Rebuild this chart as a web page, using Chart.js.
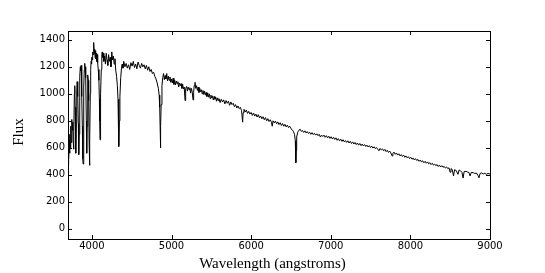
<!DOCTYPE html>
<html>
<head>
<meta charset="utf-8">
<script src="https://cdn.jsdelivr.net/npm/chart.js@4.4.1/dist/chart.umd.min.js"></script>
<style>
  html, body { margin: 0; padding: 0; background: #fff; }
  canvas { display: block; }
</style>
</head>
<body>
<canvas id="spectrumChart" width="545" height="273"></canvas>
<script>
// Spectrum, split in four stretches (wavelength in angstroms, flux)
const violetWave = [
  3700, 3705, 3710, 3715, 3720, 3725, 3730, 3735,
  3740, 3745, 3750, 3755, 3760, 3765, 3770, 3775,
  3780, 3785, 3790, 3795, 3800, 3805, 3810, 3815,
  3820, 3825, 3830, 3835, 3840, 3845, 3850, 3855,
  3860, 3865, 3870, 3875, 3880, 3885, 3890, 3895,
  3900, 3905, 3910, 3915, 3920, 3925, 3930, 3935,
  3940, 3945, 3950, 3955, 3960, 3965, 3970, 3975,
  3980, 3985, 3990, 3995, 4000, 4005, 4010, 4015,
  4020, 4025, 4030, 4035, 4040, 4045, 4050, 4055,
  4060, 4065, 4070, 4075, 4080, 4088, 4094, 4098,
  4102, 4106, 4112, 4118, 4125, 4130, 4135, 4140
];
const violetFlux = [
  470, 610, 520, 660, 560, 700, 600, 760,
  640, 700, 810, 730, 790, 650, 590, 720,
  1000, 1060, 900, 620, 560, 780, 1020, 1090,
  1060, 980, 780, 550, 700, 1010, 1130, 1200,
  1170, 1210, 1120, 980, 760, 520, 480, 700,
  1050, 1180, 1225, 1190, 1200, 1120, 800, 560,
  760, 1080, 1140, 1100, 950, 640, 470, 650,
  1000, 1180, 1240, 1220, 1270, 1250, 1310, 1290,
  1340, 1380, 1300, 1330, 1270, 1320, 1260, 1300,
  1240, 1290, 1250, 1230, 1180, 1100, 960, 800,
  660, 820, 1000, 1180, 1290, 1310, 1270, 1300
];

const blueWave = [
  4150, 4160, 4170, 4180, 4190, 4200, 4210, 4220,
  4230, 4240, 4250, 4260, 4270, 4280, 4290, 4300,
  4310, 4320, 4328, 4335, 4340, 4345, 4352, 4362,
  4372, 4380, 4390, 4400, 4415, 4430, 4445, 4460,
  4475, 4490, 4505, 4520, 4535, 4550, 4565, 4580,
  4595, 4610, 4625, 4640, 4655, 4670, 4685, 4700,
  4715, 4730, 4745, 4760, 4775, 4790, 4805, 4820,
  4835, 4845, 4852, 4857, 4861, 4865, 4870, 4880,
  4890, 4900
];
const blueFlux = [
  1240, 1280, 1220, 1300, 1250, 1210, 1290, 1240,
  1270, 1200, 1310, 1250, 1280, 1220, 1260, 1170,
  1130, 1060, 960, 780, 610, 800, 980, 1120,
  1190, 1220, 1190, 1240, 1200, 1225, 1190, 1215,
  1180, 1230, 1205, 1240, 1195, 1220, 1185, 1235,
  1210, 1190, 1225, 1200, 1215, 1185, 1210, 1175,
  1200, 1165, 1180, 1150, 1160, 1130, 1110, 1080,
  1040, 990, 900, 760, 600, 760, 920, 1060,
  1120, 1150
];

const greenWave = [
  4910, 4920, 4930, 4940, 4950, 4960, 4970, 4980,
  4990, 5000, 5010, 5020, 5030, 5040, 5050, 5060,
  5070, 5080, 5090, 5100, 5110, 5120, 5130, 5140,
  5150, 5160, 5170, 5175, 5180, 5190, 5200, 5210,
  5220, 5230, 5240, 5250, 5260, 5270, 5278, 5285,
  5295, 5305, 5315, 5325, 5335, 5345, 5355, 5365,
  5375, 5385, 5395, 5405, 5415, 5425, 5435, 5445,
  5455, 5465, 5475, 5485, 5495, 5505, 5515, 5525,
  5535, 5545, 5555, 5565, 5575, 5585, 5595, 5610,
  5625, 5640, 5655, 5670, 5685, 5700, 5715, 5730,
  5745, 5760, 5775, 5790, 5805, 5820, 5835, 5850,
  5865, 5880, 5893, 5900, 5910, 5925, 5940, 5955,
  5970, 5985, 6000, 6015, 6030, 6045, 6060, 6075,
  6090, 6105, 6120, 6135, 6150, 6165, 6180, 6195,
  6210, 6225, 6240, 6255, 6265, 6275, 6290, 6305,
  6320, 6335, 6350, 6365, 6380, 6395, 6410, 6425,
  6440, 6455, 6470, 6485, 6500, 6515, 6530, 6545,
  6555, 6560, 6563, 6566, 6572, 6585, 6600, 6615,
  6630
];
const greenFlux = [
  1105, 1135, 1110, 1150, 1095, 1130, 1100, 1125,
  1085, 1110, 1080, 1115, 1070, 1100, 1065, 1095,
  1075, 1090, 1050, 1080, 1060, 1075, 1040, 1070,
  1035, 1050, 950, 1000, 1040, 1055, 1020, 1050,
  1030, 1045, 1005, 1040, 1015, 955, 1010, 1060,
  1085, 1040, 1060, 1025, 1050, 1010, 1040, 1015,
  1030, 1000, 1025, 995, 1020, 990, 1010, 980,
  1005, 975, 1000, 965, 990, 970, 985, 955,
  980, 960, 975, 945, 970, 950, 965, 935,
  960, 940, 955, 925, 950, 930, 945, 915,
  940, 920, 930, 905, 920, 895, 910, 890,
  900, 875, 790, 860, 885, 865, 880, 855,
  870, 850, 862, 840, 858, 835, 850, 828,
  845, 822, 836, 815, 830, 808, 824, 800,
  816, 795, 808, 790, 760, 800, 785, 798,
  778, 792, 772, 786, 765, 780, 760, 774,
  755, 768, 750, 760, 742, 735, 722, 700,
  650, 540, 490, 580, 680, 715, 730, 738,
  722
];

const redWave = [
  6645, 6660, 6675, 6690, 6705, 6720, 6735, 6750,
  6765, 6780, 6795, 6810, 6825, 6840, 6855, 6870,
  6885, 6900, 6915, 6930, 6945, 6960, 6975, 6990,
  7005, 7020, 7035, 7050, 7065, 7080, 7095, 7110,
  7125, 7140, 7155, 7170, 7185, 7200, 7215, 7230,
  7245, 7260, 7275, 7290, 7305, 7320, 7335, 7350,
  7365, 7380, 7395, 7410, 7425, 7440, 7455, 7470,
  7485, 7500, 7515, 7530, 7545, 7560, 7575, 7590,
  7605, 7620, 7635, 7650, 7665, 7680, 7695, 7710,
  7725, 7740, 7755, 7770, 7780, 7795, 7810, 7825,
  7840, 7855, 7870, 7885, 7900, 7915, 7930, 7945,
  7960, 7975, 7990, 8005, 8020, 8035, 8050, 8065,
  8080, 8095, 8110, 8125, 8140, 8155, 8170, 8185,
  8200, 8215, 8230, 8245, 8260, 8275, 8290, 8305,
  8320, 8335, 8350, 8365, 8380, 8395, 8410, 8425,
  8440, 8455, 8470, 8485, 8498, 8510, 8525, 8542,
  8555, 8575, 8598, 8612, 8630, 8648, 8662, 8675,
  8700, 8720, 8735, 8750, 8765, 8790, 8810, 8830,
  8848, 8862, 8875, 8895, 8915, 8935, 8955, 8975,
  9000
];
const redFlux = [
  728, 714, 726, 710, 720, 706, 716, 700,
  712, 698, 708, 694, 704, 690, 700, 680,
  694, 684, 694, 678, 690, 674, 686, 670,
  682, 666, 678, 662, 674, 656, 668, 652,
  664, 648, 660, 644, 654, 640, 652, 636,
  648, 632, 644, 628, 640, 624, 636, 620,
  632, 616, 628, 614, 624, 610, 620, 606,
  616, 602, 612, 598, 608, 594, 602, 590,
  578, 596, 584, 592, 578, 588, 572, 582,
  566, 576, 562, 540, 560, 568, 552, 562,
  546, 556, 540, 550, 536, 546, 530, 540,
  526, 534, 520, 530, 516, 524, 510, 520,
  506, 514, 500, 510, 496, 504, 490, 500,
  486, 496, 482, 490, 476, 486, 472, 480,
  468, 476, 462, 472, 458, 468, 456, 462,
  450, 458, 446, 452, 420, 446, 440, 392,
  438, 432, 404, 436, 430, 418, 376, 424,
  426, 420, 418, 392, 418, 416, 410, 414,
  396, 378, 410, 414, 406, 412, 404, 410,
  406
];

const wavelength = [...violetWave, ...blueWave, ...greenWave, ...redWave];
const flux = [...violetFlux, ...blueFlux, ...greenFlux, ...redFlux];

// Tick values shown on the axes
const xTicks = [4000, 5000, 6000, 7000, 8000, 9000];
const yTicks = [0, 200, 400, 600, 800, 1000, 1200, 1400];

const xTitle = 'Wavelength (angstroms)';
const yTitle = 'Flux';

// matplotlib-like frame with inward ticks on all four sides, plus axis titles
const framePlugin = {
    id: 'frame',
    afterDraw(chart) {
        const ctx = chart.ctx;
        const area = chart.chartArea;
        const xs = chart.scales.x;
        const ys = chart.scales.y;
        const len = 4;
        ctx.save();
        ctx.strokeStyle = '#000';
        ctx.lineWidth = 1;
        ctx.strokeRect(Math.round(area.left) + 0.5, Math.round(area.top) + 0.5,
            Math.round(area.right - area.left), Math.round(area.bottom - area.top));
        ctx.beginPath();
        xTicks.forEach(v => {
            const px = Math.round(xs.getPixelForValue(v)) + 0.5;
            ctx.moveTo(px, area.bottom);
            ctx.lineTo(px, area.bottom - len);
            ctx.moveTo(px, area.top);
            ctx.lineTo(px, area.top + len);
        });
        yTicks.forEach(v => {
            const py = Math.round(ys.getPixelForValue(v)) + 0.5;
            ctx.moveTo(area.left, py);
            ctx.lineTo(area.left + len, py);
            ctx.moveTo(area.right, py);
            ctx.lineTo(area.right - len, py);
        });
        ctx.stroke();

        ctx.fillStyle = '#000';
        ctx.font = '15px "Liberation Serif", "DejaVu Serif", serif';
        ctx.textAlign = 'center';
        ctx.textBaseline = 'alphabetic';
        ctx.fillText(xTitle, 272.5, 268);
        ctx.translate(23, 132);
        ctx.rotate(-Math.PI / 2);
        ctx.fillText(yTitle, 0, 0);
        ctx.restore();
    }
};

const ctx = document.getElementById('spectrumChart').getContext('2d');
const spectrumChart = new Chart(ctx, {
    type: 'line',
    data: {
        datasets: [{
            data: wavelength.map((w, i) => ({ x: w, y: flux[i] })),
            borderColor: '#000',
            borderWidth: 1,
            pointRadius: 0,
            fill: false,
            tension: 0
        }]
    },
    options: {
        responsive: false,
        animation: false,
        devicePixelRatio: 1,
        layout: {
            padding: { left: 0, right: 55, top: 31, bottom: 0 }
        },
        plugins: {
            legend: { display: false },
            tooltip: { enabled: false }
        },
        scales: {
            x: {
                type: 'linear',
                min: 3700,
                max: 9000,
                grid: { display: false, drawTicks: false },
                border: { display: false },
                afterBuildTicks: scale => { scale.ticks = xTicks.map(v => ({ value: v })); },
                afterFit: scale => { scale.height = 34; },
                ticks: {
                    padding: 1,
                    color: '#000',
                    maxRotation: 0,
                    font: { family: '"DejaVu Sans"', size: 10 },
                    callback: v => String(v)
                }
            },
            y: {
                type: 'linear',
                min: -75,
                max: 1465,
                grid: { display: false, drawTicks: false },
                border: { display: false },
                afterBuildTicks: scale => { scale.ticks = yTicks.map(v => ({ value: v })); },
                afterFit: scale => { scale.width = 68; },
                ticks: {
                    padding: 3,
                    color: '#000',
                    font: { family: '"DejaVu Sans"', size: 10 },
                    callback: v => String(v)
                }
            }
        }
    },
    plugins: [framePlugin]
});
</script>
</body>
</html>
